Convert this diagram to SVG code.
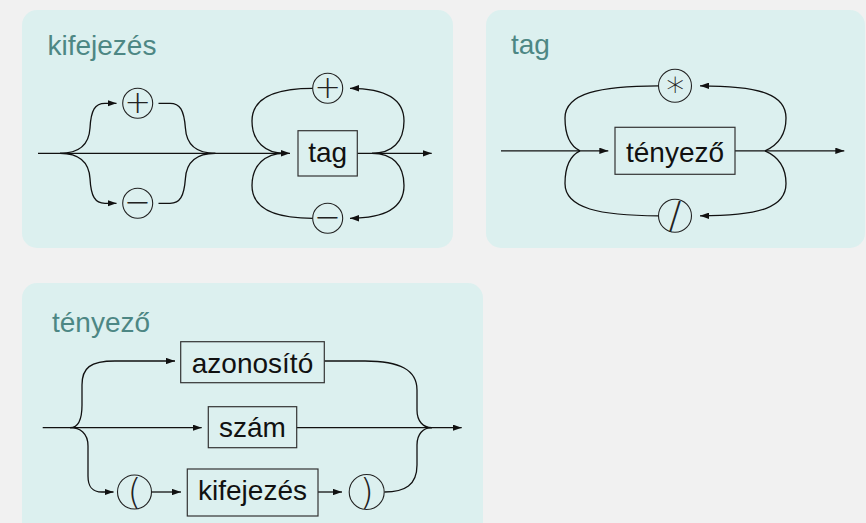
<svg xmlns="http://www.w3.org/2000/svg" width="866" height="523" viewBox="0 0 866 523">
<style>
.panel{fill:#dcf0ef;stroke:none}
.title{font-family:"Liberation Sans",Arial,sans-serif;font-size:28px;fill:#4d8784}
.box{fill:none;stroke:#333;stroke-width:1.2}
.lbl{font-family:"Liberation Sans",Arial,sans-serif;font-size:28px;fill:#111;text-anchor:middle}
.circ{fill:none;stroke:#222;stroke-width:1.1}
.sym{font-family:"DejaVu Sans","Liberation Sans",sans-serif;font-weight:200;fill:#222;text-anchor:middle}
.ln{fill:none;stroke:#111;stroke-width:1.3}
.ar{marker-end:url(#ah)}
</style>
<defs>
<marker id="ah" markerUnits="userSpaceOnUse" markerWidth="9" markerHeight="6.4" viewBox="0 0 9 6.4" refX="9" refY="3.2" orient="auto">
<path d="M0,0 L9,3.2 L0,6.4 z" fill="#111"/>
</marker>
</defs>
<rect width="866" height="523" fill="#f1f1f1"/>

<g id="panel-kifejezes">
<rect class="panel" x="22" y="10" width="431" height="238" rx="15"/>
<text class="title" x="47.5" y="55">kifejezés</text>
</g>
<g id="panel-tag">
<rect class="panel" x="486" y="10" width="379" height="238" rx="15"/>
<text class="title" x="511" y="54">tag</text>
</g>
<g id="panel-tenyezo">
<rect class="panel" x="22" y="283" width="461" height="260" rx="15"/>
<text class="title" x="52" y="331.5">tényező</text>
</g>

<g id="connectors">
<!-- panel 1 -->
<path class="ln ar" d="M38,153.3 L290,153.3"/>
<path class="ln ar" d="M60,153.3 C78,153.3 89,145 90,128 C91,110 95,103.3 105,103.3 L116.5,103.3"/>
<path class="ln ar" d="M60,153.3 C78,153.3 89,161.6 90,178.6 C91,196.6 95,203.3 105,203.3 L116.5,203.3"/>
<path class="ln" d="M158.5,103.3 L170,103.3 C180,103.3 184,110 185.4,128 C186.4,145 197,153.3 215.4,153.3"/>
<path class="ln" d="M158.5,203.3 L170,203.3 C180,203.3 184,196.6 185.4,178.6 C186.4,161.6 197,153.3 215.4,153.3"/>
<path class="ln" d="M312.7,88.3 C274,88.3 252,98 252,121 C252,142 266,153.3 284,153.3"/>
<path class="ln" d="M312.7,218.3 C274,218.3 252,208.6 252,185.6 C252,164.6 266,153.3 284,153.3"/>
<path class="ln ar" d="M357.3,153.3 L431.7,153.3"/>
<path class="ln ar" d="M372,153.3 C392,153.3 404,142 404,121 C404,99 386,88.3 350,88.3"/>
<path class="ln ar" d="M372,153.3 C392,153.3 404,164.6 404,185.6 C404,207.6 386,218.3 350,218.3"/>
<!-- panel 2 -->
<path class="ln ar" d="M501,150.8 L608.3,150.8"/>
<path class="ln ar" d="M735,150.8 L844.3,150.8"/>
<path class="ln" d="M658.5,85.8 C600,86 565,93 565,118 C565,135 570,146 580,150.8"/>
<path class="ln" d="M658.5,215.8 C600,215.6 565,208.6 565,183.6 C565,166.6 570,155.6 580,150.8"/>
<path class="ln ar" d="M765,150.8 C776,146 786,136 786,118 C786,95 762,85.8 700,85.8"/>
<path class="ln ar" d="M765,150.8 C776,155.6 786,165.6 786,183.6 C786,206.6 762,215.8 700,215.8"/>
<!-- panel 3 -->
<path class="ln ar" d="M42.7,427.7 L201.7,427.7"/>
<path class="ln ar" d="M296.7,427.7 L461.7,427.7"/>
<path class="ln ar" d="M70,427.7 C78,427.7 82,420 82,405 L82,385 C82,368 90,361 115,361 L175,361"/>
<path class="ln" d="M324.3,361 L365,361 C400,361 417,370 417,390 L417,410 C417,421 423,427.7 432,427.7"/>
<path class="ln ar" d="M70,427.7 C80,427.7 88,433 88,446 L88,476 C88,487 92,492 102,492 L113.5,492"/>
<path class="ln" d="M384.5,492 C405,492 417,485 417,465 L417,445 C417,434 423,427.7 432,427.7"/>
<path class="ln ar" d="M151,492 L181,492"/>
<path class="ln ar" d="M318,492 L342,492"/>
</g>

<g id="node-plus-1">
<circle class="circ" cx="137.7" cy="103.3" r="15"/>
<text class="sym" x="137.7" y="113.3" font-size="32">+</text>
</g>
<g id="node-minus-1">
<circle class="circ" cx="137.7" cy="203.3" r="15"/>
<text class="sym" x="137.7" y="213.3" font-size="32">−</text>
</g>
<g id="node-tag">
<rect class="box" x="298" y="130.7" width="59.3" height="45.3"/>
<text class="lbl" x="327.7" y="161.7">tag</text>
</g>
<g id="node-plus-2">
<circle class="circ" cx="327.7" cy="88.3" r="15"/>
<text class="sym" x="327.7" y="98.3" font-size="32">+</text>
</g>
<g id="node-minus-2">
<circle class="circ" cx="327.7" cy="218.3" r="15"/>
<text class="sym" x="327.7" y="228.3" font-size="32">−</text>
</g>

<g id="node-tenyezo">
<rect class="box" x="615" y="127.3" width="120" height="47"/>
<text class="lbl" x="675" y="161.8">tényező</text>
</g>
<g id="node-star">
<circle class="circ" cx="675" cy="85.8" r="16.5"/>
<text class="sym" x="675" y="96" font-size="36">∗</text>
</g>
<g id="node-slash">
<circle class="circ" cx="675" cy="215.8" r="16.5"/>
<text class="sym" x="675" y="228" font-size="38">/</text>
</g>

<g id="node-azonosito">
<rect class="box" x="180.7" y="341.7" width="143.6" height="41"/>
<text class="lbl" x="252.5" y="372.7">azonosító</text>
</g>
<g id="node-szam">
<rect class="box" x="208.3" y="406.7" width="88.4" height="41"/>
<text class="lbl" x="252.5" y="437.3">szám</text>
</g>
<g id="node-kifejezes">
<rect class="box" x="187.3" y="469" width="130.7" height="47"/>
<text class="lbl" x="252.5" y="500">kifejezés</text>
</g>
<g id="node-lparen">
<circle class="circ" cx="134.5" cy="492" r="17"/>
<text class="sym" x="134.5" y="503.8" font-size="36">(</text>
</g>
<g id="node-rparen">
<circle class="circ" cx="366.7" cy="492" r="17.5"/>
<text class="sym" x="366.7" y="503.8" font-size="36">)</text>
</g>
</svg>
